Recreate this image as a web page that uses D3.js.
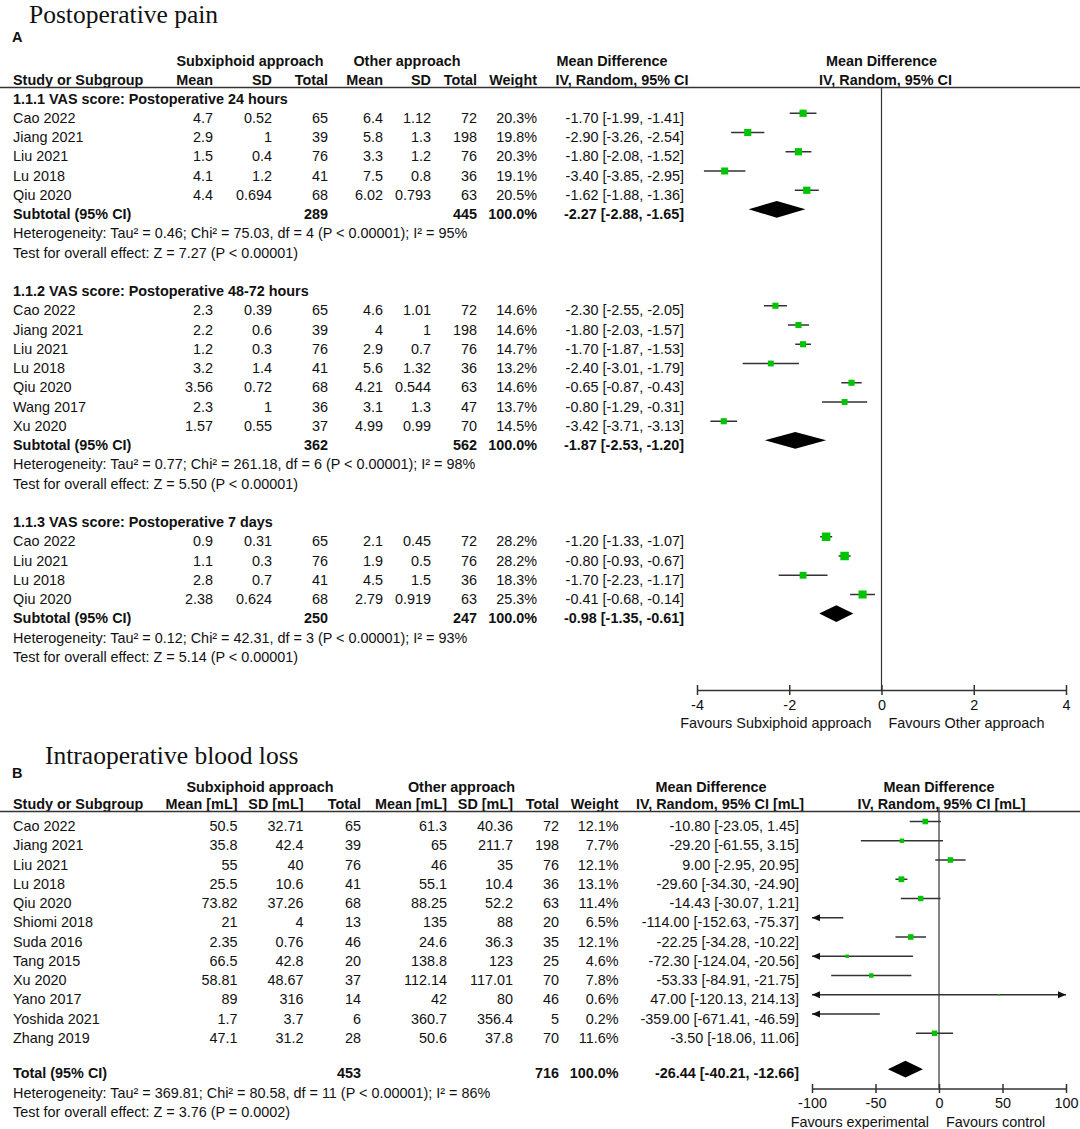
<!DOCTYPE html>
<html><head><meta charset="utf-8">
<script src="https://cdn.jsdelivr.net/npm/d3@7/dist/d3.min.js"></script>
<style>
body{margin:0;background:#fff}
svg{display:block}
text{font-family:"Liberation Sans",Arial,sans-serif;fill:#111}
</style>
</head><body>
<svg id="chart" width="1080" height="1129"></svg>
<script>
// ---------------- DATA ----------------
// Panel A: Postoperative pain (study, subxMean, subxSD, subxN, otherMean, otherSD, otherN, weight%, MD, lo, hi)
const sectionTitlesA = [
  "1.1.1 VAS score: Postoperative 24 hours",
  "1.1.2 VAS score: Postoperative 48-72 hours",
  "1.1.3 VAS score: Postoperative 7 days"
];
const studiesA1 = [
  ["Cao 2022", 4.7, 0.52, 65, 6.4, 1.12, 72, 20.3, -1.70, -1.99, -1.41],
  ["Jiang 2021", 2.9, 1, 39, 5.8, 1.3, 198, 19.8, -2.90, -3.26, -2.54],
  ["Liu 2021", 1.5, 0.4, 76, 3.3, 1.2, 76, 20.3, -1.80, -2.08, -1.52],
  ["Lu 2018", 4.1, 1.2, 41, 7.5, 0.8, 36, 19.1, -3.40, -3.85, -2.95],
  ["Qiu 2020", 4.4, 0.694, 68, 6.02, 0.793, 63, 20.5, -1.62, -1.88, -1.36]
];
const studiesA2 = [
  ["Cao 2022", 2.3, 0.39, 65, 4.6, 1.01, 72, 14.6, -2.30, -2.55, -2.05],
  ["Jiang 2021", 2.2, 0.6, 39, 4, 1, 198, 14.6, -1.80, -2.03, -1.57],
  ["Liu 2021", 1.2, 0.3, 76, 2.9, 0.7, 76, 14.7, -1.70, -1.87, -1.53],
  ["Lu 2018", 3.2, 1.4, 41, 5.6, 1.32, 36, 13.2, -2.40, -3.01, -1.79],
  ["Qiu 2020", 3.56, 0.72, 68, 4.21, 0.544, 63, 14.6, -0.65, -0.87, -0.43],
  ["Wang 2017", 2.3, 1, 36, 3.1, 1.3, 47, 13.7, -0.80, -1.29, -0.31],
  ["Xu 2020", 1.57, 0.55, 37, 4.99, 0.99, 70, 14.5, -3.42, -3.71, -3.13]
];
const studiesA3 = [
  ["Cao 2022", 0.9, 0.31, 65, 2.1, 0.45, 72, 28.2, -1.20, -1.33, -1.07],
  ["Liu 2021", 1.1, 0.3, 76, 1.9, 0.5, 76, 28.2, -0.80, -0.93, -0.67],
  ["Lu 2018", 2.8, 0.7, 41, 4.5, 1.5, 36, 18.3, -1.70, -2.23, -1.17],
  ["Qiu 2020", 2.38, 0.624, 68, 2.79, 0.919, 63, 25.3, -0.41, -0.68, -0.14]
];
// subtotals: subxN, otherN, weight, MD, lo, hi
const subtotalsA = [
  [289, 445, 100.0, -2.27, -2.88, -1.65],
  [362, 562, 100.0, -1.87, -2.53, -1.20],
  [250, 247, 100.0, -0.98, -1.35, -0.61]
];
const heterogeneityA = [
  "Heterogeneity: Tau² = 0.46; Chi² = 75.03, df = 4 (P < 0.00001); I² = 95%",
  "Heterogeneity: Tau² = 0.77; Chi² = 261.18, df = 6 (P < 0.00001); I² = 98%",
  "Heterogeneity: Tau² = 0.12; Chi² = 42.31, df = 3 (P < 0.00001); I² = 93%"
];
const overallTestA = [
  "Test for overall effect: Z = 7.27 (P < 0.00001)",
  "Test for overall effect: Z = 5.50 (P < 0.00001)",
  "Test for overall effect: Z = 5.14 (P < 0.00001)"
];
const ticksA = [-4, -2, 0, 2, 4];

// Panel B: Intraoperative blood loss
const studiesB = [
  ["Cao 2022", 50.5, 32.71, 65, 61.3, 40.36, 72, 12.1, -10.80, -23.05, 1.45],
  ["Jiang 2021", 35.8, 42.4, 39, 65, 211.7, 198, 7.7, -29.20, -61.55, 3.15],
  ["Liu 2021", 55, 40, 76, 46, 35, 76, 12.1, 9.00, -2.95, 20.95],
  ["Lu 2018", 25.5, 10.6, 41, 55.1, 10.4, 36, 13.1, -29.60, -34.30, -24.90],
  ["Qiu 2020", 73.82, 37.26, 68, 88.25, 52.2, 63, 11.4, -14.43, -30.07, 1.21],
  ["Shiomi 2018", 21, 4, 13, 135, 88, 20, 6.5, -114.00, -152.63, -75.37],
  ["Suda 2016", 2.35, 0.76, 46, 24.6, 36.3, 35, 12.1, -22.25, -34.28, -10.22],
  ["Tang 2015", 66.5, 42.8, 20, 138.8, 123, 25, 4.6, -72.30, -124.04, -20.56],
  ["Xu 2020", 58.81, 48.67, 37, 112.14, 117.01, 70, 7.8, -53.33, -84.91, -21.75],
  ["Yano 2017", 89, 316, 14, 42, 80, 46, 0.6, 47.00, -120.13, 214.13],
  ["Yoshida 2021", 1.7, 3.7, 6, 360.7, 356.4, 5, 0.2, -359.00, -671.41, -46.59],
  ["Zhang 2019", 47.1, 31.2, 28, 50.6, 37.8, 70, 11.6, -3.50, -18.06, 11.06]
];
const totalB = [453, 716, 100.0, -26.44, -40.21, -12.66];
const heterogeneityB = "Heterogeneity: Tau² = 369.81; Chi² = 80.58, df = 11 (P < 0.00001); I² = 86%";
const overallTestB = "Test for overall effect: Z = 3.76 (P = 0.0002)";
const ticksB = [-100, -50, 0, 50, 100];

// ---------------- DRAWING ----------------
const svg = d3.select("#chart");
const FS = 14.4;
const GREEN = "#00c400";
const LINE = "#333";

function txt(g, x, y, s, anchor, bold, size, family) {
  const t = g.append("text").attr("x", x).attr("y", y)
    .attr("text-anchor", anchor || "start")
    .attr("font-size", size || FS)
    .attr("font-weight", bold ? "bold" : "normal")
    .text(s);
  if (family) t.style("font-family", family);
  return t;
}
const fmt2 = v => v.toFixed(2);
const ciText = (m, l, h) => `${fmt2(m)} [${fmt2(l)}, ${fmt2(h)}]`;

function drawStudyMark(g, x, cy, md, lo, hi, w, k) {
  const [dmin, dmax] = x.domain();
  const x1 = x(Math.max(lo, dmin)), x2 = x(Math.min(hi, dmax));
  g.append("line").attr("x1", x1).attr("x2", x2).attr("y1", cy).attr("y2", cy)
    .attr("stroke", LINE).attr("stroke-width", 1.5);
  if (lo < dmin) {
    const xe = x(dmin);
    g.append("path").attr("d", `M${xe},${cy}L${xe + 8},${cy - 3.5}L${xe + 8},${cy + 3.5}Z`).attr("fill", "#111");
  }
  if (hi > dmax) {
    const xe = x(dmax);
    g.append("path").attr("d", `M${xe},${cy}L${xe - 8},${cy - 3.5}L${xe - 8},${cy + 3.5}Z`).attr("fill", "#111");
  }
  if (md >= dmin && md <= dmax) {
    const s = Math.max(1.6, k * Math.sqrt(w));
    g.append("rect").attr("x", x(md) - s / 2).attr("y", cy - s / 2)
      .attr("width", s).attr("height", s).attr("fill", GREEN);
  }
}
function drawDiamond(g, x, cy, md, lo, hi, h) {
  g.append("path")
    .attr("d", `M${x(lo)},${cy}L${x(md)},${cy - h}L${x(hi)},${cy}L${x(md)},${cy + h}Z`)
    .attr("fill", "#000");
}
function drawAxis(g, x, ticks, y, tickLen) {
  const ax = d3.axisBottom(x).tickValues(ticks).tickFormat(d => String(d))
    .tickSizeInner(tickLen).tickSizeOuter(0).tickPadding(5);
  const a = g.append("g").attr("transform", `translate(0,${y})`).call(ax);
  a.select(".domain").attr("stroke", LINE).attr("stroke-width", 1.5);
  a.selectAll(".tick line").attr("stroke", LINE).attr("stroke-width", 1.5).attr("y1", -tickLen);
  a.selectAll(".tick text").attr("font-size", FS).attr("fill", "#111")
    .style("font-family", '"Liberation Sans",Arial,sans-serif');
  return a;
}

// ===== Panel A =====
const gA = svg.append("g");
txt(gA, 29, 23, "Postoperative pain", "start", false, 25.5, '"Liberation Serif","Times New Roman",serif');
txt(gA, 12, 42, "A", "start", true, 14.5);

const colA = [213, 272, 328, 383, 431, 477, 537];
const ciRightA = 684;
const xA = d3.scaleLinear().domain([-4, 4]).range([697, 1066]);
const rowA = d3.scaleLinear().domain([0, 1]).range([103.5, 122.75]);

// headers
txt(gA, 250, 65.5, "Subxiphoid approach", "middle", true);
txt(gA, 407, 65.5, "Other approach", "middle", true);
txt(gA, 612, 65.5, "Mean Difference", "middle", true);
txt(gA, xA(0), 65.5, "Mean Difference", "middle", true);
const hdrA = ["Mean", "SD", "Total", "Mean", "SD", "Total", "Weight"];
txt(gA, 13, 84.5, "Study or Subgroup", "start", true);
hdrA.forEach((h, i) => txt(gA, colA[i], 84.5, h, "end", true));
txt(gA, 622, 84.5, "IV, Random, 95% CI", "middle", true);
txt(gA, xA(0) + 4, 84.5, "IV, Random, 95% CI", "middle", true);
gA.append("line").attr("x1", 0).attr("x2", 1080).attr("y1", 87.5).attr("y2", 87.5)
  .attr("stroke", LINE).attr("stroke-width", 1.4);
// zero line
gA.append("line").attr("x1", xA(0)).attr("x2", xA(0)).attr("y1", 87.5).attr("y2", 690)
  .attr("stroke", LINE).attr("stroke-width", 1.2);

const sectionsA = [studiesA1, studiesA2, studiesA3];
let r = 0;
sectionsA.forEach((rows, si) => {
  txt(gA, 13, rowA(r), sectionTitlesA[si], "start", true);
  r++;
  rows.forEach(d => {
    const y = rowA(r);
    txt(gA, 13, y, d[0]);
    for (let c = 0; c < 6; c++) txt(gA, colA[c], y, String(d[c + 1]), "end");
    txt(gA, colA[6], y, d[7].toFixed(1) + "%", "end");
    txt(gA, ciRightA, y, ciText(d[8], d[9], d[10]), "end");
    drawStudyMark(gA, xA, y - 9.5, d[8], d[9], d[10], d[7], 1.6);
    r++;
  });
  const s = subtotalsA[si];
  const y = rowA(r);
  txt(gA, 13, y, "Subtotal (95% CI)", "start", true);
  txt(gA, colA[2], y, String(s[0]), "end", true);
  txt(gA, colA[5], y, String(s[1]), "end", true);
  txt(gA, colA[6], y, s[2].toFixed(1) + "%", "end", true);
  txt(gA, ciRightA, y, ciText(s[3], s[4], s[5]), "end", true);
  drawDiamond(gA, xA, y - 9.7, s[3], s[4], s[5], 8.4);
  r++;
  txt(gA, 13, rowA(r), heterogeneityA[si]); r++;
  txt(gA, 13, rowA(r), overallTestA[si]); r++;
  r++; // blank
});
drawAxis(gA, xA, ticksA, 690, 5);
txt(gA, xA(0) - 10, 727.5, "Favours Subxiphoid approach", "end");
txt(gA, xA(0) + 7, 727.5, "Favours Other approach", "start");

// ===== Panel B =====
const gB = svg.append("g");
txt(gB, 45, 764, "Intraoperative blood loss", "start", false, 25.5, '"Liberation Serif","Times New Roman",serif');
txt(gB, 12, 777.5, "B", "start", true, 14.5);

const colB = [237.5, 303.5, 361, 447, 513, 559, 618.5];
const ciRightB = 799;
const xB = d3.scaleLinear().domain([-100, 100]).range([812, 1066]);
const rowB = d3.scaleLinear().domain([0, 1]).range([831, 850.25]);

txt(gB, 260, 791.5, "Subxiphoid approach", "middle", true);
txt(gB, 461.5, 791.5, "Other approach", "middle", true);
txt(gB, 711, 791.5, "Mean Difference", "middle", true);
txt(gB, xB(0), 791.5, "Mean Difference", "middle", true);
const hdrB = ["Mean [mL]", "SD [mL]", "Total", "Mean [mL]", "SD [mL]", "Total", "Weight"];
txt(gB, 13, 809, "Study or Subgroup", "start", true);
hdrB.forEach((h, i) => txt(gB, colB[i], 809, h, "end", true));
txt(gB, 720, 809, "IV, Random, 95% CI [mL]", "middle", true);
txt(gB, xB(0) + 2.5, 809, "IV, Random, 95% CI [mL]", "middle", true);
gB.append("line").attr("x1", 0).attr("x2", 1080).attr("y1", 811.5).attr("y2", 811.5)
  .attr("stroke", LINE).attr("stroke-width", 1.4);
gB.append("line").attr("x1", xB(0)).attr("x2", xB(0)).attr("y1", 807).attr("y2", 1088.5)
  .attr("stroke", LINE).attr("stroke-width", 1.2);

studiesB.forEach((d, i) => {
  const y = rowB(i);
  txt(gB, 13, y, d[0]);
  for (let c = 0; c < 6; c++) txt(gB, colB[c], y, String(d[c + 1]), "end");
  txt(gB, colB[6], y, d[7].toFixed(1) + "%", "end");
  txt(gB, ciRightB, y, ciText(d[8], d[9], d[10]), "end");
  drawStudyMark(gB, xB, y - 9.5, d[8], d[9], d[10], d[7], 1.6);
});
{
  const y = rowB(12.85);
  txt(gB, 13, y, "Total (95% CI)", "start", true);
  txt(gB, colB[2], y, String(totalB[0]), "end", true);
  txt(gB, colB[5], y, String(totalB[1]), "end", true);
  txt(gB, colB[6], y, totalB[2].toFixed(1) + "%", "end", true);
  txt(gB, ciRightB, y, ciText(totalB[3], totalB[4], totalB[5]), "end", true);
  drawDiamond(gB, xB, y - 9.2, totalB[3], totalB[4], totalB[5], 8.3);
  txt(gB, 13, rowB(13.88), heterogeneityB);
  txt(gB, 13, rowB(14.88), overallTestB);
}
drawAxis(gB, xB, ticksB, 1088.5, 4.5);
txt(gB, xB(0) - 10, 1126.5, "Favours experimental", "end");
txt(gB, xB(0) + 7, 1126.5, "Favours control", "start");
</script>
</body></html>
